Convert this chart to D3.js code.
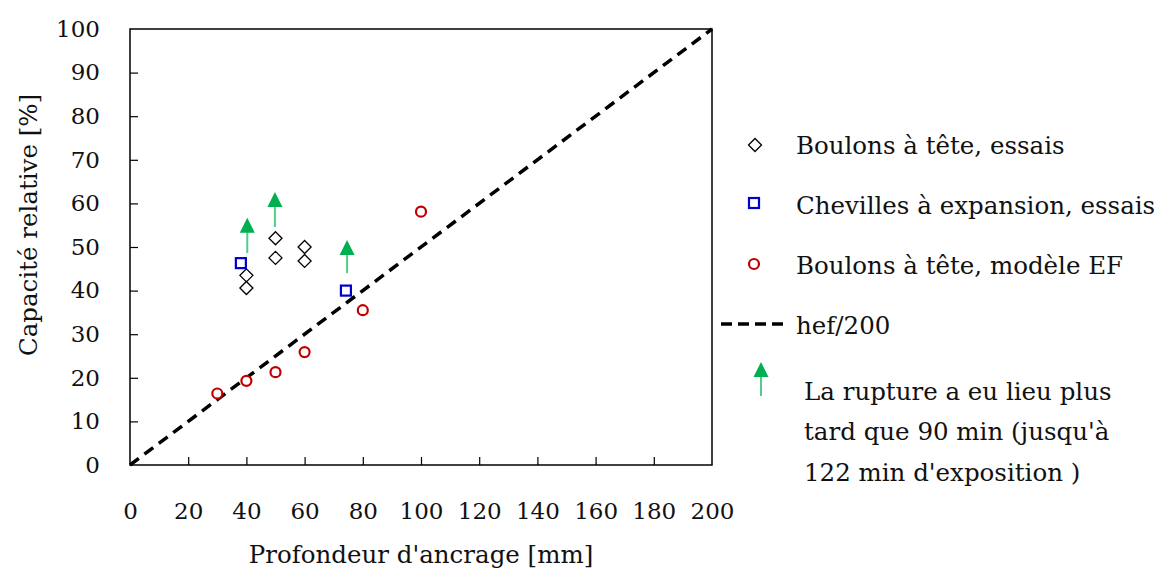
<!DOCTYPE html>
<html><head><meta charset="utf-8">
<script src="https://cdn.jsdelivr.net/npm/d3@7"></script>
</head><body style="margin:0;background:#fff"><svg id="c" width="1156" height="574"></svg>
<script>
const xTicks = [0,20,40,60,80,100,120,140,160,180,200];
const yTicks = [0,10,20,30,40,50,60,70,80,90,100];
const diamondsX = [40,40,50,50,60,60];
const diamondsY = [43.5,40.6,52,47.5,50,46.8];
const squaresX = [38.1,74.2];
const squaresY = [46.3,40.0];
const circlesX = [30,40,50,60,80,100];
const circlesY = [16.4,19.3,21.3,25.9,35.5,58.1];
const lineX = [0,200];
const lineY = [0,100];
const arrowX = [40.3,49.8,74.6];
const arrowFrom = [48.6,54.6,44.0];
const arrowTo = [56.7,62.6,51.6];
const legendLabels = ["Boulons à tête, essais","Chevilles à expansion, essais","Boulons à tête, modèle EF","hef/200"];
const noteLines = ["La rupture a eu lieu plus","tard que 90 min (jusqu'à","122 min d'exposition )"];

const FONT = "DejaVu Serif";
const svg = d3.select("#c");
svg.append("rect").attr("width",1156).attr("height",574).attr("fill","#fff");
const x = d3.scaleLinear().domain([0,200]).range([130,712]);
const y = d3.scaleLinear().domain([0,100]).range([465,29]);
const green = "#00b050", stemGreen = "#4fcf85";

function txt(g, xx, yy, s, size) {
  return g.append("text").attr("x",xx).attr("y",yy).attr("font-family",FONT)
    .attr("font-size",size).attr("fill","#111").text(s);
}

// frame
svg.append("rect").attr("x",130).attr("y",29).attr("width",582).attr("height",436)
  .attr("fill","none").attr("stroke","#000").attr("stroke-width",1.5);

// axes with inward ticks
const gx = svg.append("g").attr("transform","translate(0,465)")
  .call(d3.axisBottom(x).tickValues(xTicks).tickSizeInner(-8).tickSizeOuter(0).tickPadding(38).tickFormat(d3.format("d")));
const gy = svg.append("g").attr("transform","translate(130,0)")
  .call(d3.axisLeft(y).tickValues(yTicks).tickSizeInner(-8).tickSizeOuter(0).tickPadding(30).tickFormat(d3.format("d")));
[gx,gy].forEach(g=>{
  g.attr("font-family",FONT).attr("font-size",23);
  g.select(".domain").remove();
  g.selectAll(".tick line").attr("stroke","#000").attr("stroke-width",1.2);
  g.selectAll(".tick text").attr("fill","#111").attr("font-family",FONT).attr("font-size",23);
});
gx.selectAll(".tick line").filter(d=>d===0||d===200).remove();
gy.selectAll(".tick line").filter(d=>d===0||d===100).remove();

// axis titles
txt(svg, 421, 563, "Profondeur d'ancrage [mm]", 24.5).attr("text-anchor","middle");
txt(svg, 0, 0, "Capacité relative [%]", 24.5).attr("text-anchor","middle").attr("transform","translate(37,225) rotate(-90)");

// dashed line
const line = d3.line().x((d,i)=>x(lineX[i])).y((d,i)=>y(lineY[i]));
svg.append("path").attr("d",line(lineX)).attr("fill","none").attr("stroke","#000")
  .attr("stroke-width",3.5).attr("stroke-dasharray","11,7");

// arrows
arrowX.forEach((ax,i)=>{
  const px = x(ax), tip = y(arrowTo[i]), bot = y(arrowFrom[i]);
  svg.append("line").attr("x1",px).attr("x2",px).attr("y1",tip+14).attr("y2",bot).attr("stroke",stemGreen).attr("stroke-width",2);
  svg.append("path").attr("d",`M${px},${tip} L${px+7.5},${tip+15} L${px-7.5},${tip+15} Z`).attr("fill",green);
});

// markers
const diamond = (g,cx,cy)=>g.append("path").attr("d",`M${cx},${cy-6.5} L${cx+6.5},${cy} L${cx},${cy+6.5} L${cx-6.5},${cy} Z`)
  .attr("fill","#fff").attr("stroke","#000").attr("stroke-width",1.3);
const square = (g,cx,cy)=>g.append("rect").attr("x",cx-5).attr("y",cy-5).attr("width",10).attr("height",10)
  .attr("fill","#fff").attr("stroke","#0000cc").attr("stroke-width",2.2);
const circle = (g,cx,cy)=>g.append("circle").attr("cx",cx).attr("cy",cy).attr("r",5)
  .attr("fill","#fff").attr("stroke","#c00000").attr("stroke-width",2.2);

diamondsX.forEach((d,i)=>diamond(svg,x(d),y(diamondsY[i])));
squaresX.forEach((d,i)=>square(svg,x(d),y(squaresY[i])));
circlesX.forEach((d,i)=>circle(svg,x(d),y(circlesY[i])));

// legend
const lg = svg.append("g");
diamond(lg,755,145);
square(lg,754,203);
circle(lg,754,264);
lg.append("line").attr("x1",721).attr("x2",788).attr("y1",324).attr("y2",324).attr("stroke","#000").attr("stroke-width",3.5).attr("stroke-dasharray","11,6");
const ly = [154,214,274,334];
legendLabels.forEach((t,i)=>txt(lg,796,ly[i],t,24.5));
lg.append("line").attr("x1",761).attr("x2",761).attr("y1",374).attr("y2",396).attr("stroke",stemGreen).attr("stroke-width",2);
lg.append("path").attr("d","M761,362 L768.5,377 L753.5,377 Z").attr("fill",green);
const ny = [400,440,481];
noteLines.forEach((t,i)=>txt(lg,804,ny[i],t,24.5));
</script></body></html>
